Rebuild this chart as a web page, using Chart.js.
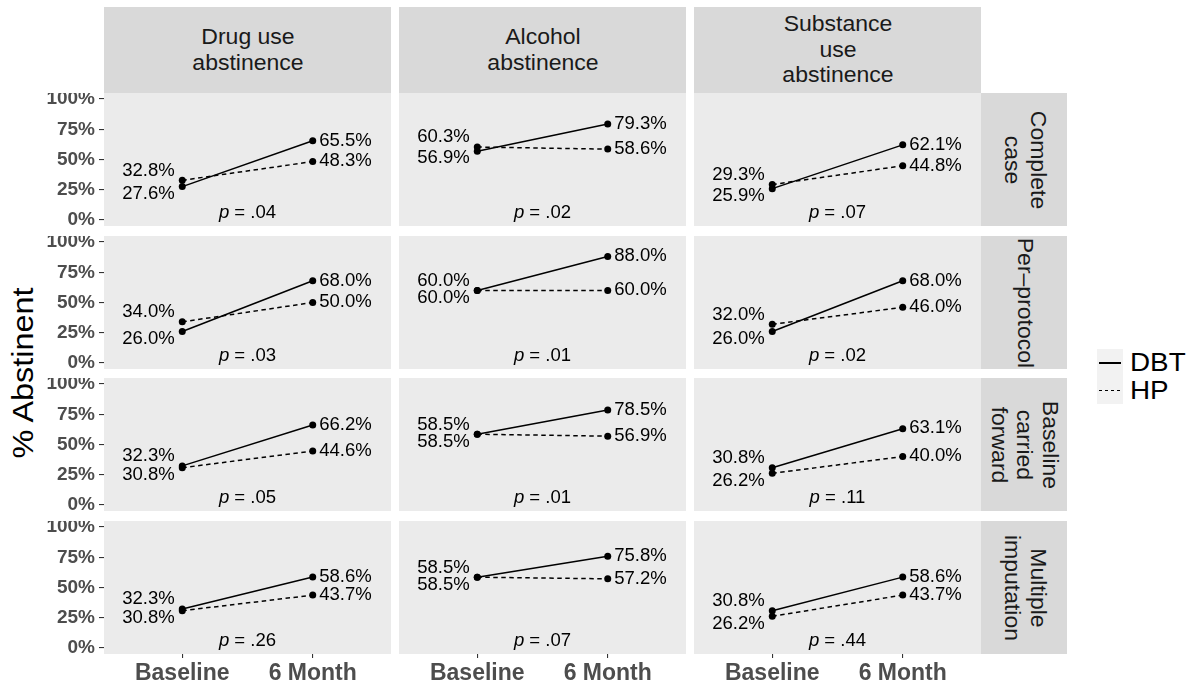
<!DOCTYPE html>
<html>
<head>
<meta charset="utf-8">
<script src="https://cdn.jsdelivr.net/npm/chart.js@4.4.1/dist/chart.umd.min.js"></script>
<style>
  html, body { margin: 0; padding: 0; background: #ffffff; }
  #fig { position: relative; width: 1201px; height: 685px; overflow: hidden;
         font-family: "Liberation Sans", Arial, Helvetica, sans-serif; }
  #fig canvas { position: absolute; }
  .strip { position: absolute; background: #D9D9D9; color: #1A1A1A;
           font-size: 21.5px; line-height: 25.5px; }
  .strip span { position: absolute; left: 50%; top: 50%; white-space: pre; text-align: center; }
  .top span { transform: translate(-50%, -50%) scaleX(1.07); }
  .side span { transform: translate(-50%, -50%) rotate(90deg) scaleX(1.07); }
  #ytitle { position: absolute; left: 23px; top: 373px; white-space: nowrap; color: #000;
            font-size: 30px; transform: translate(-50%, -50%) rotate(-90deg) scaleX(1.08); }
  .key { position: absolute; width: 26px; height: 27.5px; background: #F2F2F2; }
  .key i { position: absolute; left: 2px; right: 2px; top: 13px; height: 1.6px; }
  .key .solid { background: #000; }
  .key .dash { background: repeating-linear-gradient(90deg, #000 0 3px, transparent 3px 6px); }
  .ktext { position: absolute; font-size: 26px; line-height: 27.5px; color: #000;
           transform-origin: 0 50%; transform: scaleX(1.07); }
</style>
</head>
<body>
<div id="fig">
  <div id="ytitle">% Abstinent</div>
</div>
<script>
// Time points on the x axis
const timepoints = ['Baseline', '6 Month'];
// Column facets (outcome) and row facets (analysis approach)
const outcomes = ['Drug use\nabstinence', 'Alcohol\nabstinence', 'Substance\nuse\nabstinence'];
const analyses = ['Complete\ncase', 'Per\u2013protocol', 'Baseline\ncarried\nforward', 'Multiple\nimputation'];
// Percent abstinent, rows = analyses, columns = outcomes
const dbtBaseline = [[27.6, 56.9, 25.9], [26.0, 60.0, 26.0], [32.3, 58.5, 30.8], [32.3, 58.5, 30.8]];
const dbtSixMonth = [[65.5, 79.3, 62.1], [68.0, 88.0, 68.0], [66.2, 78.5, 63.1], [58.6, 75.8, 58.6]];
const hpBaseline  = [[32.8, 60.3, 29.3], [34.0, 60.0, 32.0], [30.8, 58.5, 26.2], [30.8, 58.5, 26.2]];
const hpSixMonth  = [[48.3, 58.6, 44.8], [50.0, 60.0, 46.0], [44.6, 56.9, 40.0], [43.7, 57.2, 43.7]];
// Group-by-time p values
const pValues = [['.04', '.02', '.07'], ['.03', '.01', '.02'], ['.05', '.01', '.11'], ['.26', '.07', '.44']];
// Legend / series names
const groups = ['DBT', 'HP'];
// y axis ticks (percent)
const yTicks = [0, 25, 50, 75, 100];

// ---- layout of the facet grid (px) ----
const FIG_H = 685;
const colLeft = [104, 399, 694];
const panelW = 287;
const rowTop = [93, 236, 378, 521];
const panelH = 133;
const stripTop = 7, stripSize = 86;
const FONT = '"Liberation Sans", Arial, Helvetica, sans-serif';
const TEXT_SX = 1.06;

const fig = document.getElementById('fig');

// strips
outcomes.forEach((label, c) => {
  const d = document.createElement('div');
  d.className = 'strip top';
  Object.assign(d.style, { left: colLeft[c] + 'px', top: stripTop + 'px', width: panelW + 'px', height: stripSize + 'px' });
  const s = document.createElement('span'); s.textContent = label; d.appendChild(s);
  fig.appendChild(d);
});
analyses.forEach((label, r) => {
  const d = document.createElement('div');
  d.className = 'strip side';
  Object.assign(d.style, { left: (colLeft[2] + panelW) + 'px', top: rowTop[r] + 'px', width: stripSize + 'px', height: panelH + 'px' });
  const s = document.createElement('span'); s.textContent = label; d.appendChild(s);
  fig.appendChild(d);
});

// legend
const legendKeys = [{ top: 349, cls: 'solid' }, { top: 376.5, cls: 'dash' }];
groups.forEach((g, i) => {
  const k = document.createElement('div');
  k.className = 'key';
  k.style.left = '1097px'; k.style.top = legendKeys[i].top + 'px';
  const ln = document.createElement('i'); ln.className = legendKeys[i].cls; k.appendChild(ln);
  fig.appendChild(k);
  const t = document.createElement('div');
  t.className = 'ktext'; t.textContent = g;
  t.style.left = '1130px'; t.style.top = legendKeys[i].top + 'px';
  fig.appendChild(t);
});

// ---- plugins ----
const panelBg = {
  id: 'panelBg',
  beforeDraw(chart) {
    const { ctx, chartArea: a } = chart;
    ctx.save();
    ctx.fillStyle = '#EBEBEB';
    ctx.fillRect(a.left, a.top, a.right - a.left, a.bottom - a.top);
    ctx.restore();
  }
};

function drawStretched(ctx, text, x, y, align) {
  ctx.save();
  ctx.translate(x, y);
  ctx.scale(TEXT_SX, 1);
  ctx.textAlign = align;
  ctx.fillText(text, 0, 0);
  ctx.restore();
}
const fmt = v => v.toFixed(1) + '%';

const valueLabels = {
  id: 'valueLabels',
  afterDatasetsDraw(chart, args, opts) {
    const { ctx, chartArea: a } = chart;
    const xs = chart.scales.x, ys = chart.scales.y;
    const ds = chart.data.datasets;
    const base = ds.map(d => d.data[0].y);
    const six = ds.map(d => d.data[1].y);
    const hi = Math.max(...base), lo = Math.min(...base);
    const xb = xs.getPixelForValue(1), xm = xs.getPixelForValue(2);
    ctx.save();
    ctx.fillStyle = '#000000';
    ctx.textBaseline = 'middle';
    ctx.font = '17.5px ' + FONT;
    drawStretched(ctx, fmt(hi), xb - 7.5, ys.getPixelForValue(hi) - 9.5, 'right');
    drawStretched(ctx, fmt(lo), xb - 7.5, ys.getPixelForValue(lo) + 7.5, 'right');
    six.forEach(v => drawStretched(ctx, fmt(v), xm + 6.5, ys.getPixelForValue(v), 'left'));
    // p value: italic "p" followed by " = .xx"
    const rest = ' = ' + opts.p;
    ctx.font = 'italic 17.5px ' + FONT;
    const w1 = ctx.measureText('p').width;
    ctx.font = '17.5px ' + FONT;
    const w2 = ctx.measureText(rest).width;
    const cx = (a.left + a.right) / 2, py = ys.getPixelForValue(5.5);
    const x0 = cx - (w1 + w2) * TEXT_SX / 2;
    ctx.font = 'italic 17.5px ' + FONT;
    drawStretched(ctx, 'p', x0, py, 'left');
    ctx.font = '17.5px ' + FONT;
    drawStretched(ctx, rest, x0 + w1 * TEXT_SX, py, 'left');
    ctx.restore();
  }
};

// ---- panels ----
analyses.forEach((an, r) => {
  outcomes.forEach((oc, c) => {
    const isLeft = c === 0;
    const isBottom = r === analyses.length - 1;
    const left = isLeft ? 0 : colLeft[c];
    const w = colLeft[c] + panelW - left;
    const h = isBottom ? FIG_H - rowTop[r] : panelH;
    const cv = document.createElement('canvas');
    cv.width = w; cv.height = h;
    Object.assign(cv.style, { left: left + 'px', top: rowTop[r] + 'px', width: w + 'px', height: h + 'px' });
    fig.appendChild(cv);

    const series = [
      [dbtBaseline[r][c], dbtSixMonth[r][c]],
      [hpBaseline[r][c], hpSixMonth[r][c]]
    ];

    new Chart(cv, {
      type: 'line',
      data: {
        datasets: groups.map((g, i) => ({
          label: g,
          data: series[i].map((y, j) => ({ x: j + 1, y })),
          borderColor: '#000000',
          borderWidth: 1.5,
          borderDash: i === 1 ? [4.5, 3.5] : [],
          pointRadius: 3.5,
          pointBackgroundColor: '#000000',
          pointBorderColor: '#000000',
          pointBorderWidth: 0,
          tension: 0
        }))
      },
      options: {
        responsive: false,
        animation: false,
        devicePixelRatio: 1,
        events: [],
        layout: { padding: 0, autoPadding: false },
        plugins: {
          legend: { display: false },
          tooltip: { enabled: false },
          valueLabels: { p: pValues[r][c] }
        },
        scales: {
          x: {
            type: 'linear', min: 0.4, max: 2.6, display: isBottom,
            afterBuildTicks: s => { s.ticks = timepoints.map((t, i) => ({ value: i + 1 })); },
            afterFit: s => {
              if (isBottom) s.height = h - panelH;
              s.paddingLeft = 0; s.paddingRight = 0;
            },
            grid: { display: true, drawOnChartArea: false, drawTicks: true, tickLength: 4,
                    tickColor: '#333333', lineWidth: 1.1 },
            border: { display: false },
            ticks: {
              callback: (v, i) => timepoints[i],
              color: '#4D4D4D', padding: 2, maxRotation: 0, autoSkip: false,
              font: { family: FONT, size: 23, weight: 'bold' }
            }
          },
          y: {
            type: 'linear', min: -5, max: 105, display: isLeft,
            afterBuildTicks: s => { s.ticks = yTicks.map(v => ({ value: v })); },
            afterFit: s => {
              if (isLeft) s.width = colLeft[0];
              s.paddingTop = 0; s.paddingBottom = 0;
            },
            grid: { display: true, drawOnChartArea: false, drawTicks: true, tickLength: 5,
                    tickColor: '#333333', lineWidth: 1.1 },
            border: { display: false },
            ticks: {
              callback: v => v + '%',
              color: '#4D4D4D', padding: 4, autoSkip: false,
              font: { family: FONT, size: 19, weight: 'bold' }
            }
          }
        }
      },
      plugins: [panelBg, valueLabels]
    });
  });
});
</script>
</body>
</html>
